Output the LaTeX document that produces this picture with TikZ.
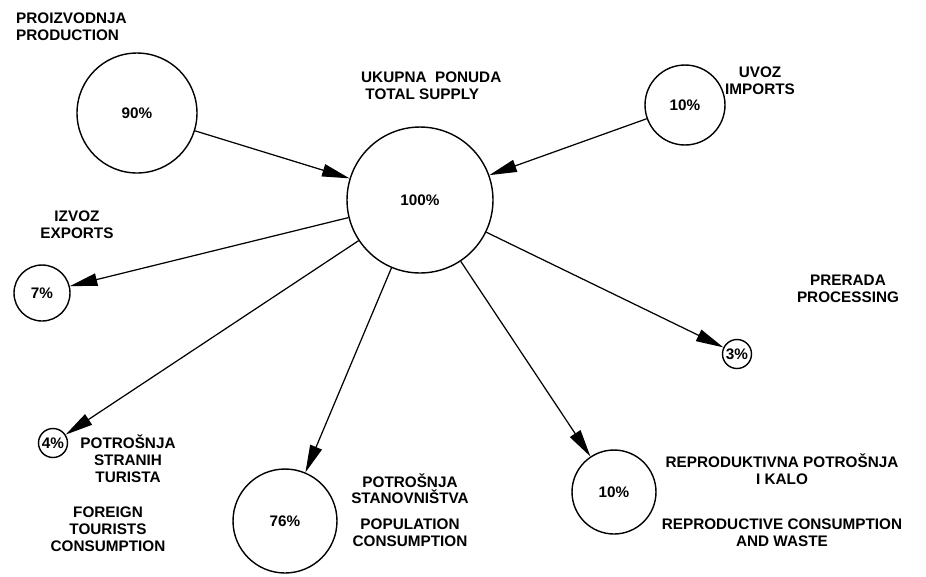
\documentclass[tikz,border=0pt]{standalone}
\usepackage{fontspec}
\setmainfont{Liberation Sans}
\usetikzlibrary{arrows.meta}

\begin{document}
\begin{tikzpicture}[x=0.02cm,y=-0.02cm,
  krug/.style={draw,circle,line width=0.8pt,inner sep=0pt,font=\fontsize{8.7}{9.6}\selectfont\bfseries},
  natpis/.style={align=center,font=\fontsize{8.7}{9.6}\selectfont\bfseries},
  strelica/.style={line width=0.7pt,-{Triangle[length=0.55cm,width=0.25cm]}}]

        \useasboundingbox (0,0) rectangle (926,576);

        % Disegna i cerchi con le percentuali
        \node[krug,minimum size=2.4cm] (prod) at (137,113) {90\%};
        \node[krug,minimum size=2.92cm] (ukupno) at (420,200) {100\%};
        \node[krug,minimum size=1.6cm] (uvoz) at (685,105) {10\%};
        \node[krug,minimum size=1.12cm] (izvoz) at (42,293) {7\%};
        \node[krug,minimum size=0.58cm] (prerada) at (737,354) {3\%};
        \node[krug,minimum size=0.58cm] (turisti) at (53,443) {4\%};
        \node[krug,minimum size=2.08cm] (stanov) at (285,521) {76\%};
        \node[krug,minimum size=1.68cm] (reprod) at (614,492) {10\%};

        % Etichette
        \node[natpis,align=left,anchor=west] (prodtxt) at (10,27) {PROIZVODNJA\\PRODUCTION};
        \node[natpis,align=left,anchor=west] (ukupnotxt) at (355,86) {UKUPNA\ \ PONUDA\\\ TOTAL SUPPLY};
        \node[natpis] (uvoztxt) at (760,81) {UVOZ\\IMPORTS};
        \node[natpis] (izvoztxt) at (77,225) {IZVOZ\\EXPORTS};
        \node[natpis] (preradatxt) at (848,289) {PRERADA\\PROCESSING};
        \node[natpis] (turistitxt) at (128,459) {POTROŠNJA\\STRANIH\\TURISTA};
        \node[natpis] (foreigntxt) at (108,529) {FOREIGN\\TOURISTS\\CONSUMPTION};
        \node[natpis] (stanovtxt) at (410,510) {POTROŠNJA\\STANOVNIŠTVA\\[5pt]POPULATION\\CONSUMPTION};
        \node[natpis] (reprodtxt) at (782,500) {REPRODUKTIVNA POTROŠNJA\\I KALO\\[16pt]REPRODUCTIVE CONSUMPTION\\AND WASTE};

        % Frecce verso e dal totale
        \draw[strelica] (prod) -- (ukupno);
        \draw[strelica] (uvoz) -- (ukupno);
        \foreach \cilj in {izvoz,prerada,turisti,stanov,reprod} {
          \draw[strelica] (ukupno) -- (\cilj);
        }

\end{tikzpicture}
\end{document}
